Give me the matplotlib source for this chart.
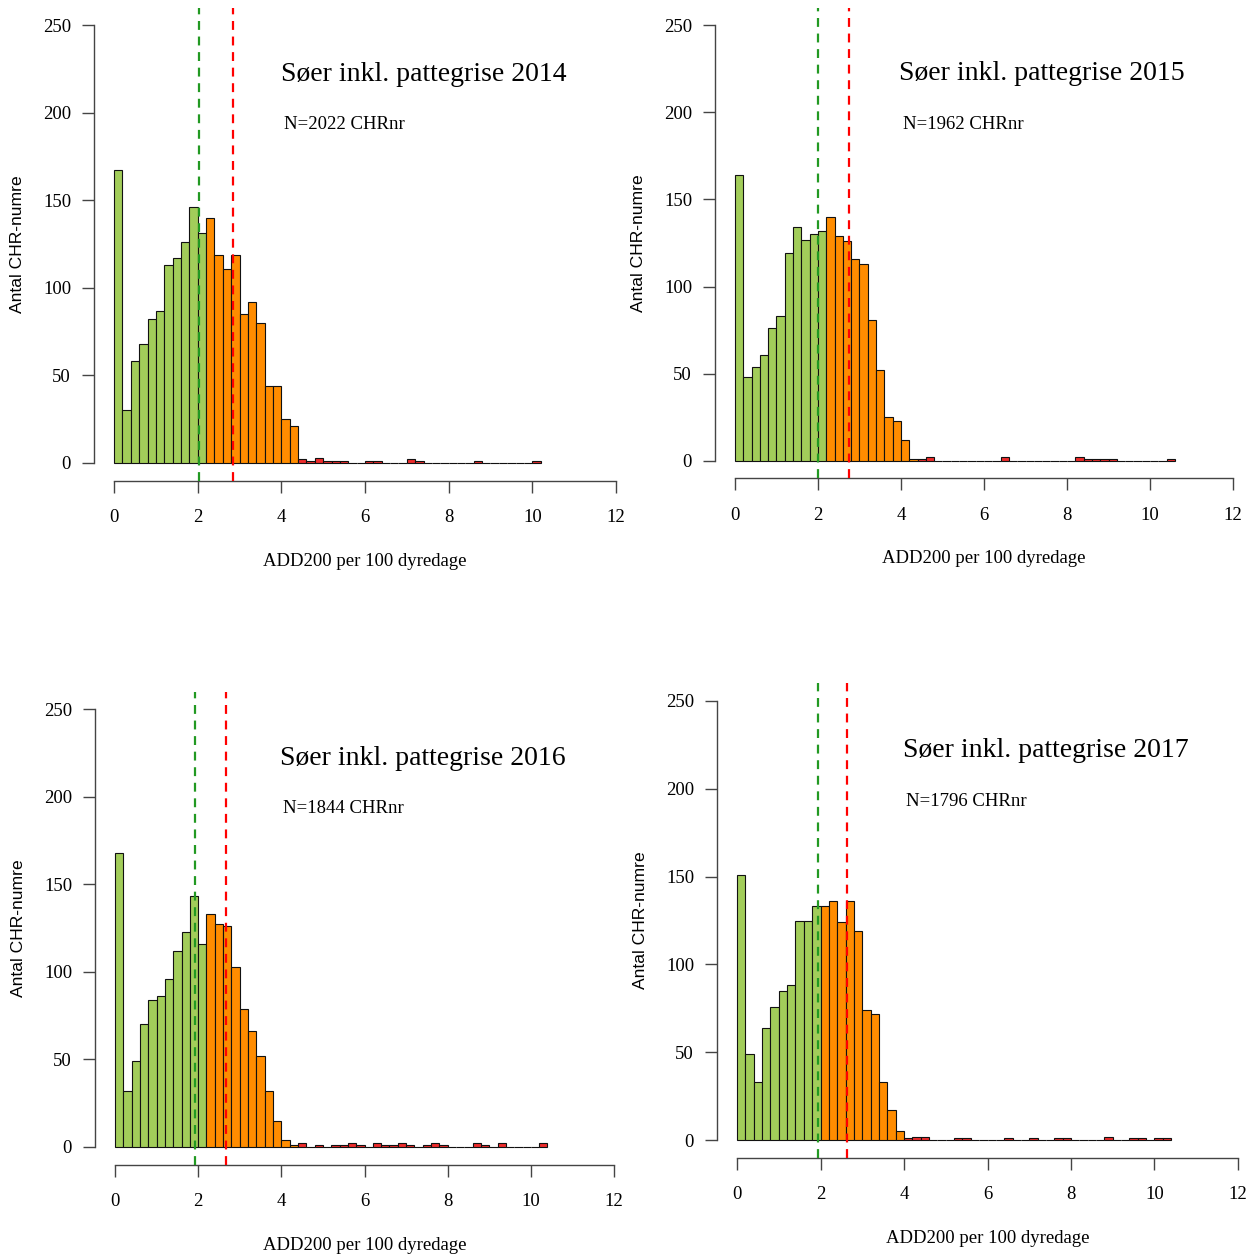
import matplotlib
matplotlib.use("Agg")
import matplotlib.pyplot as plt

# Histogram counts per 0.2-wide bin, starting at 0
counts_2014 = [167, 30, 58, 68, 82, 87, 113, 117, 126, 146, 131, 140, 119, 111, 119, 85, 92, 80,
               44, 44, 25, 21, 2, 1, 3, 1, 1, 1, 0, 0, 1, 1, 0, 0, 0, 2, 1, 0, 0, 0, 0, 0, 0, 1,
               0, 0, 0, 0, 0, 0, 1]
counts_2015 = [164, 48, 54, 61, 76, 83, 119, 134, 127, 130, 132, 140, 129, 126, 116, 113, 81, 52,
               25, 23, 12, 1, 1, 2, 0, 0, 0, 0, 0, 0, 0, 0, 2, 0, 0, 0, 0, 0, 0, 0, 0, 2, 1, 1,
               1, 1, 0, 0, 0, 0, 0, 0, 1]
counts_2016 = [168, 32, 49, 70, 84, 86, 96, 112, 123, 143, 116, 133, 127, 126, 103, 79, 66, 52,
               32, 15, 4, 1, 2, 0, 1, 0, 1, 1, 2, 1, 0, 2, 1, 1, 2, 1, 0, 1, 2, 1, 0, 0, 0, 2,
               1, 0, 2, 0, 0, 0, 0, 2]
counts_2017 = [151, 49, 33, 64, 76, 85, 88, 125, 125, 133, 133, 136, 124, 136, 119, 74, 72, 33,
               17, 5, 1, 2, 2, 0, 0, 0, 1, 1, 0, 0, 0, 0, 1, 0, 0, 1, 0, 0, 1, 1, 0, 0, 0, 0,
               2, 0, 0, 1, 1, 0, 1, 1]

years = [2014, 2015, 2016, 2017]
n_chr = [2022, 1962, 1844, 1796]
# number of green bins and first red bin per panel
n_green = [11, 11, 11, 10]
first_red = [22, 22, 22, 20]
# dashed reference lines
green_line = [2.03, 2.00, 1.92, 1.94]
red_line = [2.84, 2.75, 2.67, 2.63]

BIN_W = 0.2
C_GREEN = "#A2CD5A"
C_ORANGE = "#FF8C00"
C_RED = "#EE2C2C"
AX_COL = "#444444"

W, H = 1250, 1254
# axes boxes in pixels: left, right, top, bottom
boxes = [(94, 636, 7.5, 480.5), (715, 1253, 7.6, 478.4),
         (95, 634, 691.5, 1164.5), (717, 1258, 683.4, 1157.6)]

plt.rcParams["font.family"] = ["Liberation Serif", "DejaVu Serif"]

fig = plt.figure(figsize=(W / 100, H / 100), dpi=100)

all_counts = [counts_2014, counts_2015, counts_2016, counts_2017]
for i, counts in enumerate(all_counts):
    l, r, t, b = boxes[i]
    ax = fig.add_axes([l / W, (H - b) / H, (r - l) / W, (b - t) / H])

    edges = [k * BIN_W for k in range(len(counts))]
    colors = []
    for k in range(len(counts)):
        if k < n_green[i]:
            colors.append(C_GREEN)
        elif k < first_red[i]:
            colors.append(C_ORANGE)
        else:
            colors.append(C_RED)
    ax.bar(edges, counts, width=BIN_W, align="edge", color=colors,
           edgecolor="#111111", linewidth=0.8, zorder=2)

    ax.axvline(green_line[i], color="#229922", ls=(0, (4, 3)), lw=1.6, zorder=3)
    ax.axvline(red_line[i], color="red", ls=(0, (4, 3)), lw=1.6, zorder=3)

    ax.set_xlim(-0.48, 12.48)
    ax.set_ylim(-10, 260)
    ax.set_xticks(range(0, 13, 2))
    ax.set_yticks(range(0, 251, 50))
    for side in ["top", "right"]:
        ax.spines[side].set_visible(False)
    ax.spines["left"].set_bounds(0, 250)
    ax.spines["bottom"].set_bounds(0, 12)
    for side in ["left", "bottom"]:
        ax.spines[side].set_color(AX_COL)
        ax.spines[side].set_linewidth(1.0)
    ax.tick_params(axis="both", direction="out", length=8.5, width=1.0,
                   color=AX_COL, labelsize=13.5)
    ax.tick_params(axis="x", pad=12)
    ax.tick_params(axis="y", pad=8)
    ax.patch.set_visible(False)

    ax.text(7.4, 222, f"Søer inkl. pattegrise {years[i]}", fontsize=20,
            ha="center", va="center")
    ax.text(5.5, 193, f"N={n_chr[i]} CHRnr", fontsize=13.5,
            ha="center", va="center")

    ax.annotate("ADD200 per 100 dyredage", xy=(0.5, 0), xycoords="axes fraction",
                xytext=(0, -58), textcoords="offset points",
                ha="center", va="center", fontsize=13.5)
    ax.annotate("Antal CHR-numre", xy=(0, 0.5), xycoords="axes fraction",
                xytext=(-55, 0), textcoords="offset points", rotation=90,
                ha="center", va="center", fontsize=12.6,
                family=["Liberation Sans", "DejaVu Sans"])

fig.savefig("out.png", dpi=100)
